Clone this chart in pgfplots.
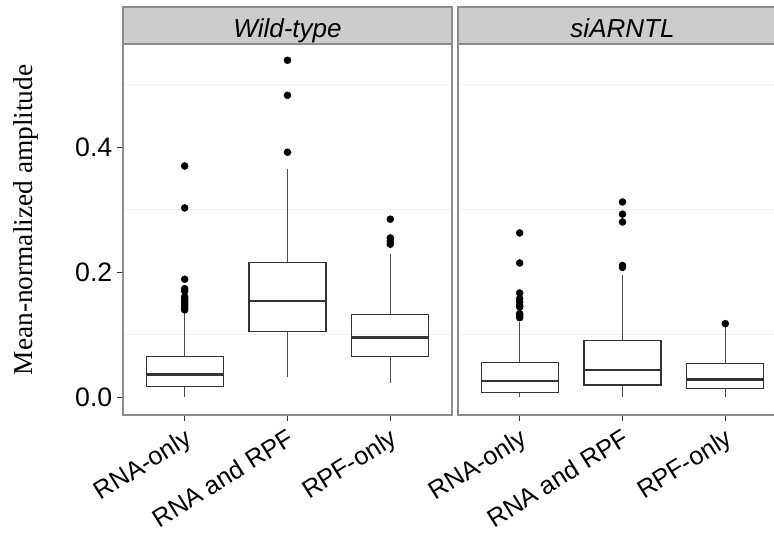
\documentclass[border=0pt]{standalone}
\usepackage{fontspec}
\setmainfont{Liberation Sans}
\newfontfamily\labelserif{Liberation Serif}
\usepackage{pgfplots}
\pgfplotsset{compat=1.18}
\usepgfplotslibrary{statistics}

\definecolor{BoxLine}{HTML}{333333}
\definecolor{WhiskerLine}{HTML}{4D4D4D}
\definecolor{PanelEdge}{HTML}{8C8C8C}
\definecolor{StripFill}{HTML}{CCCCCC}
\definecolor{GridFaint}{HTML}{F2F2F2}

\tikzset{strip/.style={font=\itshape\fontsize{19.5}{22}\selectfont, anchor=base}}

\pgfplotsset{
  panel/.style={
    scale only axis, width=246.75pt, height=278.25pt,
    xmin=0.4, xmax=3.6, ymin=-0.028, ymax=0.565,
    xtick={1,2,3}, xticklabels={RNA-only,RNA and RPF,RPF-only},
    ytick={0,0.2,0.4}, minor ytick={0.1,0.3,0.5},
    yminorgrids, minor grid style={GridFaint, line width=0.75pt},
    minor tick length=0pt,
    axis line style={PanelEdge, line width=0.9pt},
    tick align=outside, major tick length=4.5pt,
    tick style={BoxLine, line width=0.75pt},
    xtick pos=bottom, ytick pos=left,
    clip=false,
    /pgf/number format/assume math mode=true,
    x tick label style={font=\fontsize{19}{21}\selectfont, rotate=32, anchor=north east},
    y tick label style={font=\fontsize{20}{22}\selectfont,
      /pgf/number format/.cd, fixed, fixed zerofill, precision=1},
    boxplot/draw direction=y,
    boxplot/box extend=0.75,
    boxplot/whisker extend=0,
    boxplot/every box/.style={draw=BoxLine, line width=0.9pt},
    boxplot/every whisker/.style={draw=WhiskerLine, line width=0.9pt},
    boxplot/every median/.style={draw=BoxLine, line width=1.8pt},
  },
  bx/.style={mark=*, mark size=2.6pt, mark options={fill=black, draw=black}},
}

\begin{document}
\begin{tikzpicture}
% Wild-type panel
\begin{axis}[panel,
  ylabel={\labelserif\fontsize{20.5}{22}\selectfont Mean-normalized amplitude},
  ylabel style={at={(axis description cs:-0.295,0.526)}, anchor=center}]
\addplot[bx, boxplot prepared={draw position=1, lower whisker=0.0, lower quartile=0.018,
  median=0.037, upper quartile=0.066, upper whisker=0.136}]
  table[row sep=\\, y index=0] {y\\ 0.140\\ 0.143\\ 0.146\\ 0.149\\ 0.152\\ 0.155\\ 0.158\\
  0.161\\ 0.170\\ 0.174\\ 0.189\\ 0.303\\ 0.370\\};
\addplot[bx, boxplot prepared={draw position=2, lower whisker=0.0325, lower quartile=0.106,
  median=0.154, upper quartile=0.2155, upper whisker=0.366}]
  table[row sep=\\, y index=0] {y\\ 0.392\\ 0.483\\ 0.539\\};
\addplot[bx, boxplot prepared={draw position=3, lower whisker=0.023, lower quartile=0.066,
  median=0.096, upper quartile=0.133, upper whisker=0.229}]
  table[row sep=\\, y index=0] {y\\ 0.245\\ 0.250\\ 0.255\\ 0.285\\};
\draw[PanelEdge, fill=StripFill, line width=0.9pt] (rel axis cs:0,1) rectangle ([yshift=27.75pt]rel axis cs:1,1);
\node[strip] at ([yshift=5.25pt]rel axis cs:0.5,1) {Wild-type};
\end{axis}
% siARNTL panel
\begin{axis}[panel, at={(251.25pt,0pt)},
  y tick style={draw=none}, yticklabel=\empty]
\addplot[bx, boxplot prepared={draw position=1, lower whisker=0.0, lower quartile=0.0085,
  median=0.026, upper quartile=0.056, upper whisker=0.1205}]
  table[row sep=\\, y index=0] {y\\ 0.1275\\ 0.131\\ 0.134\\ 0.1445\\ 0.147\\ 0.1525\\ 0.158\\
  0.167\\ 0.215\\ 0.263\\};
\addplot[bx, boxplot prepared={draw position=2, lower whisker=0.0, lower quartile=0.020,
  median=0.044, upper quartile=0.0917, upper whisker=0.195}]
  table[row sep=\\, y index=0] {y\\ 0.208\\ 0.211\\ 0.2805\\ 0.293\\ 0.3125\\};
\addplot[bx, boxplot prepared={draw position=3, lower whisker=0.0, lower quartile=0.0139,
  median=0.0288, upper quartile=0.0544, upper whisker=0.1125}]
  table[row sep=\\, y index=0] {y\\ 0.118\\};
\draw[PanelEdge, fill=StripFill, line width=0.9pt] (rel axis cs:0,1) rectangle ([yshift=27.75pt]rel axis cs:1,1);
\node[strip] at ([yshift=5.25pt]rel axis cs:0.5,1) {siARNTL};
\end{axis}
\pgfresetboundingbox
\useasboundingbox (-92.25pt,-91.5pt) rectangle (488.25pt,311.25pt);
\end{tikzpicture}
\end{document}
